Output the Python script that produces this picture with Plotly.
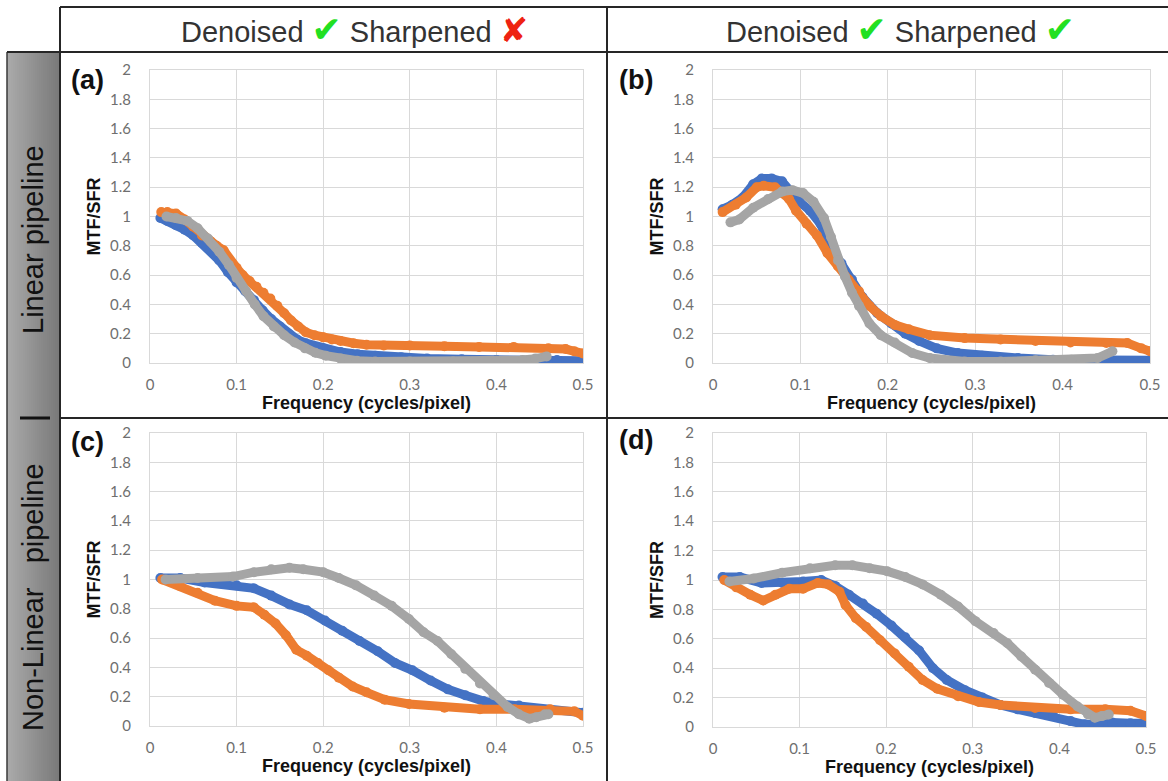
import plotly.graph_objects as go

W, H = 1168, 781

# ---------------- data ----------------
# Panel (a): Linear pipeline, denoised, not sharpened
a_blue_x = [0.012, 0.02, 0.03, 0.04, 0.05, 0.06, 0.07, 0.08, 0.09, 0.1, 0.11, 0.12, 0.13, 0.14, 0.15, 0.16, 0.17, 0.18, 0.2, 0.22, 0.24, 0.26, 0.29, 0.32, 0.36, 0.4, 0.44, 0.47, 0.5]
a_blue_y = [0.99, 0.97, 0.94, 0.91, 0.87, 0.82, 0.77, 0.70, 0.62, 0.55, 0.49, 0.43, 0.36, 0.30, 0.25, 0.20, 0.16, 0.135, 0.10, 0.075, 0.06, 0.05, 0.04, 0.03, 0.025, 0.02, 0.02, 0.02, 0.015]
a_orange_x = [0.013, 0.02, 0.03, 0.04, 0.05, 0.06, 0.07, 0.077, 0.085, 0.093, 0.1, 0.107, 0.115, 0.123, 0.131, 0.139, 0.147, 0.155, 0.163, 0.171, 0.18, 0.19, 0.2, 0.21, 0.22, 0.235, 0.25, 0.27, 0.3, 0.34, 0.38, 0.42, 0.46, 0.48, 0.49, 0.5]
a_orange_y = [1.03, 1.03, 1.02, 0.98, 0.93, 0.87, 0.83, 0.80, 0.77, 0.69, 0.65, 0.60, 0.56, 0.52, 0.48, 0.44, 0.39, 0.34, 0.29, 0.25, 0.21, 0.19, 0.175, 0.16, 0.15, 0.135, 0.125, 0.12, 0.12, 0.115, 0.11, 0.11, 0.10, 0.095, 0.08, 0.065]
a_gray_x = [0.019, 0.03, 0.043, 0.055, 0.067, 0.08, 0.091, 0.1, 0.111, 0.121, 0.131, 0.143, 0.155, 0.167, 0.179, 0.191, 0.203, 0.22, 0.239, 0.26, 0.3, 0.35, 0.4, 0.43, 0.445, 0.458]
a_gray_y = [1.0, 0.99, 0.97, 0.92, 0.85, 0.76, 0.67, 0.58, 0.49, 0.40, 0.32, 0.25, 0.19, 0.14, 0.10, 0.07, 0.05, 0.03, 0.015, 0.01, 0.01, 0.01, 0.015, 0.02, 0.03, 0.045]

# Panel (b): Linear pipeline, denoised and sharpened
b_blue_x = [0.011, 0.022, 0.034, 0.046, 0.056, 0.067, 0.079, 0.087, 0.099, 0.111, 0.123, 0.135, 0.147, 0.159, 0.171, 0.188, 0.204, 0.22, 0.236, 0.256, 0.28, 0.308, 0.349, 0.389, 0.45, 0.5]
b_blue_y = [1.05, 1.08, 1.13, 1.22, 1.26, 1.26, 1.24, 1.18, 1.10, 1.04, 0.95, 0.79, 0.68, 0.57, 0.45, 0.34, 0.27, 0.20, 0.15, 0.10, 0.068, 0.05, 0.034, 0.023, 0.018, 0.018]
b_orange_x = [0.011, 0.026, 0.038, 0.05, 0.058, 0.071, 0.079, 0.087, 0.095, 0.107, 0.119, 0.131, 0.143, 0.155, 0.167, 0.179, 0.192, 0.208, 0.224, 0.248, 0.288, 0.329, 0.369, 0.409, 0.45, 0.474, 0.49, 0.5]
b_orange_y = [1.03, 1.08, 1.13, 1.20, 1.21, 1.20, 1.16, 1.12, 1.04, 0.95, 0.87, 0.75, 0.66, 0.57, 0.49, 0.39, 0.32, 0.26, 0.23, 0.19, 0.17, 0.16, 0.15, 0.14, 0.136, 0.136, 0.10, 0.08]
b_gray_x = [0.02, 0.03, 0.046, 0.063, 0.079, 0.091, 0.103, 0.115, 0.127, 0.135, 0.143, 0.151, 0.159, 0.167, 0.179, 0.192, 0.208, 0.228, 0.248, 0.288, 0.329, 0.369, 0.41, 0.44, 0.457]
b_gray_y = [0.96, 0.98, 1.06, 1.12, 1.17, 1.18, 1.16, 1.10, 0.99, 0.86, 0.70, 0.59, 0.48, 0.39, 0.27, 0.19, 0.14, 0.068, 0.034, 0.01, 0.01, 0.018, 0.023, 0.034, 0.08]

# Panel (c): Non-linear pipeline, denoised, not sharpened
c_blue_x = [0.012, 0.035, 0.063, 0.1, 0.12, 0.14, 0.161, 0.181, 0.202, 0.222, 0.242, 0.263, 0.283, 0.303, 0.324, 0.344, 0.364, 0.385, 0.405, 0.426, 0.462, 0.5]
c_blue_y = [1.01, 1.01, 0.98, 0.96, 0.94, 0.89, 0.83, 0.79, 0.72, 0.65, 0.58, 0.51, 0.43, 0.38, 0.31, 0.25, 0.21, 0.17, 0.15, 0.14, 0.11, 0.09]
c_orange_x = [0.014, 0.035, 0.055, 0.075, 0.1, 0.12, 0.132, 0.145, 0.157, 0.169, 0.181, 0.194, 0.206, 0.218, 0.234, 0.25, 0.271, 0.299, 0.34, 0.381, 0.421, 0.462, 0.49, 0.5]
c_orange_y = [1.0, 0.955, 0.91, 0.855, 0.82, 0.81, 0.76, 0.70, 0.62, 0.52, 0.48, 0.43, 0.38, 0.33, 0.27, 0.23, 0.18, 0.15, 0.125, 0.115, 0.115, 0.115, 0.10, 0.07]
c_gray_x = [0.018, 0.055, 0.096, 0.12, 0.14, 0.161, 0.177, 0.2, 0.218, 0.238, 0.259, 0.279, 0.299, 0.316, 0.332, 0.348, 0.364, 0.381, 0.397, 0.413, 0.426, 0.438, 0.446, 0.456, 0.46]
c_gray_y = [1.0, 1.01, 1.02, 1.05, 1.07, 1.08, 1.07, 1.05, 1.01, 0.96, 0.89, 0.82, 0.73, 0.64, 0.58, 0.49, 0.39, 0.29, 0.21, 0.13, 0.08, 0.05, 0.06, 0.08, 0.08]

# Panel (d): Non-linear pipeline, denoised and sharpened
d_blue_x = [0.011, 0.031, 0.056, 0.08, 0.104, 0.125, 0.141, 0.157, 0.173, 0.189, 0.206, 0.222, 0.238, 0.254, 0.27, 0.291, 0.311, 0.332, 0.352, 0.372, 0.393, 0.413, 0.429, 0.445, 0.461, 0.482, 0.5]
d_blue_y = [1.02, 1.02, 0.98, 0.98, 0.99, 1.0, 0.96, 0.90, 0.84, 0.77, 0.69, 0.61, 0.52, 0.40, 0.32, 0.25, 0.20, 0.15, 0.12, 0.096, 0.074, 0.04, 0.018, 0.018, 0.03, 0.025, 0.025]
d_orange_x = [0.013, 0.027, 0.043, 0.058, 0.072, 0.088, 0.104, 0.121, 0.133, 0.146, 0.153, 0.165, 0.177, 0.193, 0.21, 0.226, 0.242, 0.259, 0.283, 0.307, 0.332, 0.372, 0.413, 0.453, 0.482, 0.5]
d_orange_y = [1.0, 0.95, 0.90, 0.86, 0.90, 0.94, 0.94, 0.98, 0.97, 0.92, 0.83, 0.74, 0.68, 0.59, 0.50, 0.41, 0.32, 0.26, 0.21, 0.17, 0.15, 0.13, 0.12, 0.12, 0.11, 0.075]
d_gray_x = [0.019, 0.047, 0.08, 0.112, 0.141, 0.161, 0.181, 0.201, 0.222, 0.242, 0.263, 0.283, 0.303, 0.324, 0.34, 0.356, 0.372, 0.388, 0.404, 0.421, 0.433, 0.441, 0.449, 0.457]
d_gray_y = [0.99, 1.01, 1.05, 1.08, 1.10, 1.10, 1.08, 1.06, 1.02, 0.97, 0.90, 0.82, 0.72, 0.64, 0.57, 0.48, 0.39, 0.30, 0.22, 0.14, 0.085, 0.063, 0.074, 0.085]

x_tick_vals = [0, 0.1, 0.2, 0.3, 0.4, 0.5]
x_tick_text = ["0", "0.1", "0.2", "0.3", "0.4", "0.5"]
y_tick_vals = [0, 0.2, 0.4, 0.6, 0.8, 1.0, 1.2, 1.4, 1.6, 1.8, 2.0]
y_tick_text = ["0", "0.2", "0.4", "0.6", "0.8", "1", "1.2", "1.4", "1.6", "1.8", "2"]

panel_labels = ["(a)", "(b)", "(c)", "(d)"]
row_labels = ["Linear pipeline", "Non-Linear\u00a0\u00a0\u00a0pipeline"]
x_title = "Frequency (cycles/pixel)"
y_title = "MTF/SFR"

COLORS = {"blue": "#4472C4", "orange": "#ED7D31", "gray": "#A5A5A5"}

panels = [
    [(a_blue_x, a_blue_y, "blue"), (a_orange_x, a_orange_y, "orange"), (a_gray_x, a_gray_y, "gray")],
    [(b_blue_x, b_blue_y, "blue"), (b_orange_x, b_orange_y, "orange"), (b_gray_x, b_gray_y, "gray")],
    [(c_blue_x, c_blue_y, "blue"), (c_orange_x, c_orange_y, "orange"), (c_gray_x, c_gray_y, "gray")],
    [(d_blue_x, d_blue_y, "blue"), (d_orange_x, d_orange_y, "orange"), (d_gray_x, d_gray_y, "gray")],
]

# plot areas in pixels: (left, right, top, bottom)
areas = [(150, 583, 70, 363), (713, 1150, 70, 363), (150, 583, 433, 726), (713, 1146, 433, 727)]


def px(x):
    return x / W


def py(y):
    return 1 - y / H


fig = go.Figure()
layout = dict(
    width=W, height=H, margin=dict(l=0, r=0, t=0, b=0, autoexpand=False),
    paper_bgcolor="white", plot_bgcolor="white", showlegend=False,
)

tick_font = dict(family="Lato, Open Sans, sans-serif", size=15, color="#6f6f6f")
title_font = dict(family="Liberation Sans, Arial, sans-serif", size=18, color="#111111")

for i, series in enumerate(panels):
    n = "" if i == 0 else str(i + 1)
    for xs, ys, c in series:
        fig.add_trace(go.Scatter(
            x=xs, y=ys, mode="lines+markers", xaxis="x" + n, yaxis="y" + n,
            line=dict(color=COLORS[c], width=9),
            marker=dict(color=COLORS[c], size=10, line=dict(width=0)),
            hoverinfo="skip",
        ))
    l, r, t, b = areas[i]
    layout["xaxis" + n] = dict(
        domain=[px(l), px(r)], range=[0, 0.5], anchor="y" + n, automargin=False,
        tickvals=x_tick_vals, ticktext=x_tick_text, tickfont=tick_font,
        showgrid=True, gridcolor="#d9d9d9", gridwidth=1, zeroline=False,
        showline=True, linecolor="#d9d9d9", linewidth=1, mirror=True,
        ticks="", ticklabelstandoff=8,
        title=dict(text="<b>" + x_title + "</b>", font=title_font, standoff=3),
    )
    layout["yaxis" + n] = dict(
        domain=[py(b), py(t)], range=[0, 2], anchor="x" + n, automargin=False,
        tickvals=y_tick_vals, ticktext=y_tick_text, tickfont=tick_font,
        showgrid=True, gridcolor="#d9d9d9", gridwidth=1, zeroline=False,
        showline=True, linecolor="#d9d9d9", linewidth=1, mirror=True,
        ticks="", ticklabelstandoff=15,
        title=dict(text="<b>" + y_title + "</b>", font=title_font, standoff=4),
    )

shapes = []
# gray gradient box on the left
x0g, x1g, y0g = 7, 59, 52
nstrip = 26
c0, c1 = (170, 170, 170), (122, 122, 122)
for k in range(nstrip):
    f = k / (nstrip - 1)
    col = tuple(int(round(c0[j] + (c1[j] - c0[j]) * f)) for j in range(3))
    xa = x0g + (x1g - x0g) * k / nstrip
    xb = x0g + (x1g - x0g) * (k + 1) / nstrip + 0.6
    shapes.append(dict(type="rect", xref="paper", yref="paper", x0=px(xa), x1=px(xb),
                       y0=py(H + 2), y1=py(y0g), fillcolor="rgb(%d,%d,%d)" % col,
                       line=dict(width=0), layer="below"))
line_col = "#262626"
shapes.append(dict(type="line", xref="paper", yref="paper", x0=px(7), x1=px(7), y0=py(52), y1=py(H + 2),
                   line=dict(color="#3a3a3a", width=1.5)))
table_lines = [
    (60, 7, W + 2, 7),
    (7, 52, W + 2, 52),
    (60, 418, W + 2, 418),
    (60, 7, 60, H + 2),
    (607, 7, 607, H + 2),
]
for xa, ya, xb, yb in table_lines:
    shapes.append(dict(type="line", xref="paper", yref="paper", x0=px(xa), x1=px(xb), y0=py(ya), y1=py(yb),
                       line=dict(color=line_col, width=2)))
shapes.append(dict(type="line", xref="paper", yref="paper", x0=px(20), x1=px(50), y0=py(418), y1=py(418),
                   line=dict(color="#111111", width=3)))
layout["shapes"] = shapes

ann = []
hdr_font = dict(family="Liberation Sans, Arial, sans-serif", size=29, color="#333333")
check = "<span style='color:#22e022;font-family:DejaVu Sans;font-size:36px'>\u2714</span>"
cross = "<span style='color:#ee2211;font-family:DejaVu Sans;font-size:34px'>\u2718</span>"
headers = [("Denoised " + check + " Sharpened " + cross, 354),
           ("Denoised " + check + " Sharpened " + check, 900)]
for txt, cx in headers:
    ann.append(dict(text=txt, x=px(cx), y=py(30), xref="paper", yref="paper", showarrow=False,
                    xanchor="center", yanchor="middle", font=hdr_font))
for lbl, cy in zip(row_labels, [240, 597]):
    ann.append(dict(text=lbl, x=px(33), y=py(cy), xref="paper", yref="paper", showarrow=False,
                    textangle=-90, xanchor="center", yanchor="middle",
                    font=dict(family="Liberation Sans, Arial, sans-serif", size=29, color="#111111")))
for lbl, (cx, cy) in zip(panel_labels, [(87, 80), (636, 80), (87, 442), (636, 440)]):
    ann.append(dict(text="<b>" + lbl + "</b>", x=px(cx), y=py(cy), xref="paper", yref="paper",
                    showarrow=False, xanchor="center", yanchor="middle",
                    font=dict(family="Liberation Sans, Arial, sans-serif", size=27, color="#111111")))
layout["annotations"] = ann

fig.update_layout(**layout)
fig.write_html("out.html")
